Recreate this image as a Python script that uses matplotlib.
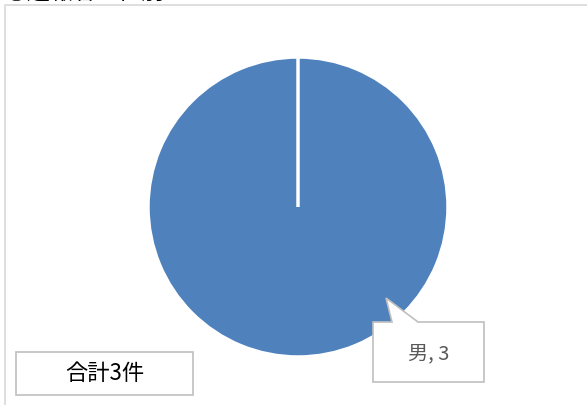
import matplotlib
matplotlib.use("Agg")
from matplotlib import pyplot as plt
from matplotlib.patches import Polygon, Rectangle

plt.rcParams['font.family'] = ['Noto Sans CJK JP', 'DejaVu Sans']

title = '③通報者の性別'
labels = ['男', '女']
values = [3, 0]
total_text = '合計3件'

W, H = 587, 405


def py(y):
    # pixel row (from top) -> data y
    return H - y


fig = plt.figure(figsize=(W / 100, H / 100), dpi=100)
ax = fig.add_axes([0, 0, 1, 1])

ax.pie(values, center=(298, py(207)), radius=150, startangle=90,
       counterclock=False, colors=['#4f81bd', '#c0504d'],
       wedgeprops=dict(edgecolor='white', linewidth=2.5))

ax.set_xlim(0, W)
ax.set_ylim(0, H)
ax.set_aspect('equal')
ax.axis('off')

# chart frame (only top and left visible)
ax.plot([5, 5, W], [0, py(4.5), py(4.5)], color='#d9d9d9', lw=1.2)

# title, mostly cut off by the top of the image
ax.text(4, py(-0.5), title, fontsize=16.5, color='black', va='baseline',
        ha='left', clip_on=False)

# data label callout
callout = [(373, 322), (392, 322), (386, 298), (418, 322), (484, 322),
           (484, 382), (373, 382)]
ax.add_patch(Polygon([(x, py(y)) for x, y in callout], closed=True,
                     facecolor='white', edgecolor='#bfbfbf', lw=1.2, zorder=5))
ax.text(428.5, py(354), f'{labels[0]}, {values[0]}', fontsize=14.5,
        color='#595959', ha='center', va='center', zorder=6)

# total box
ax.add_patch(Rectangle((16, py(395)), 177, 43, facecolor='white',
                       edgecolor='#bfbfbf', lw=1.2, zorder=5))
ax.text(104.5, py(374), total_text, fontsize=16, color='black',
        ha='center', va='center', zorder=6)

fig.savefig('out.png', dpi=100)
